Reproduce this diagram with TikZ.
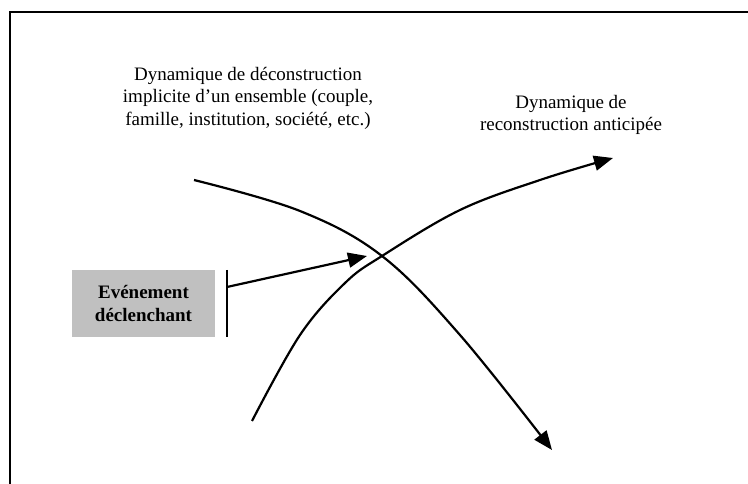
\documentclass[tikz,border=0pt]{standalone}
\usepackage{fontspec}
\setmainfont{Liberation Serif}
\usetikzlibrary{arrows.meta}
\begin{document}
\begin{tikzpicture}[x=1pt,y=-1pt,
  lbl/.style={align=center,font=\fontsize{19}{22.5}\selectfont,inner sep=0pt},
  curve/.style={line width=2.2pt,-{Triangle[length=19pt,width=15pt]}},
]
\useasboundingbox (0,0) rectangle (748,484);
\draw[line width=2.4pt] (10,484) -- (10,12) -- (748,12);
\node[lbl] (t1) at (248,98) {Dynamique de déconstruction\\implicite d’un ensemble (couple,\\famille, institution, société, etc.)};
\node[lbl] (t2) at (571,115) {Dynamique de\\reconstruction anticipée};
\node[fill={rgb,255:red,192;green,192;blue,192},minimum width=143pt,minimum height=67pt,inner sep=0pt,align=center,font=\fontsize{19}{22.5}\selectfont\bfseries] (box) at (143.5,303.5) {Evénement\\déclenchant};
\coordinate (bt) at (227,270);
\coordinate (bb) at (227,337);
\draw[line width=2.2pt] (bt) -- (bb);
\coordinate (a1) at (194,180);
\coordinate (a2) at (552,450);
\coordinate (b1) at (252,421);
\coordinate (b2) at (613,158);
\coordinate (x) at (367,256);
\coordinate (s) at (227,287);
\draw[curve] plot[smooth,tension=0.6] coordinates {(a1) (300,211) (382,256) (460,335) (a2)};
\draw[curve] plot[smooth,tension=0.6] coordinates {(b1) (300,335) (345,283) (382,256) (460,210) (540,180) (b2)};
\draw[curve] (s) -- (x);
\end{tikzpicture}
\end{document}
